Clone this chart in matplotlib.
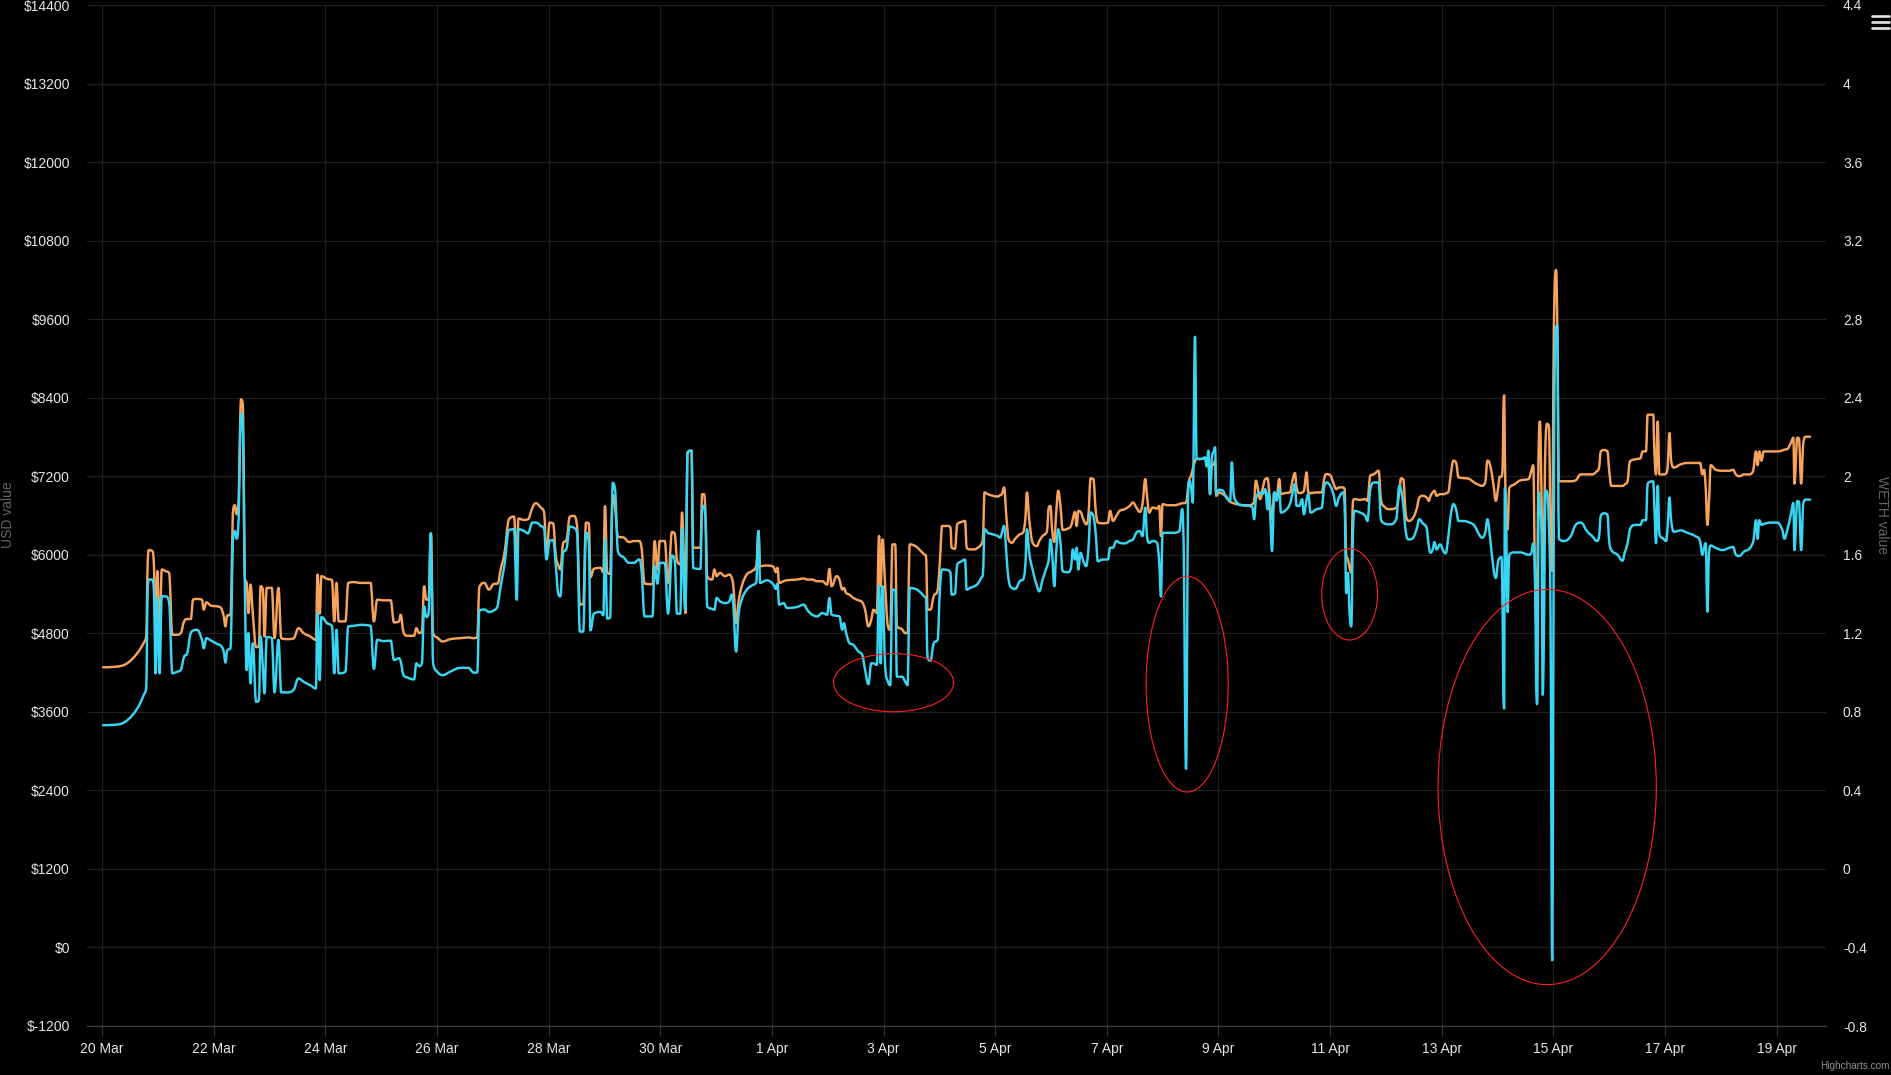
import matplotlib
matplotlib.use('Agg')
import numpy as np
import matplotlib.pyplot as plt
from matplotlib.patches import Ellipse, PathPatch
from matplotlib.path import Path
from matplotlib.lines import Line2D

plt.rcParams['font.family'] = ['Liberation Sans', 'DejaVu Sans']

# time in days since 20 Mar 00:00
days = [
    0.02, 0.27, 0.45, 0.63, 0.76, 0.79, 0.82, 0.84, 0.90, 0.93, 0.96, 0.99, 1.03, 1.07, 1.14, 1.20, 1.26, 1.34, 1.41, 1.47,
    1.52, 1.59, 1.63, 1.70, 1.79, 1.82, 1.87, 1.95, 2.06, 2.13, 2.18, 2.21, 2.24, 2.30, 2.35, 2.38, 2.41, 2.44, 2.49, 2.52,
    2.56, 2.59, 2.62, 2.66, 2.70, 2.76, 2.81, 2.84, 2.88, 2.91, 2.95, 3.04, 3.09, 3.16, 3.21, 3.31, 3.43, 3.52, 3.61, 3.73,
    3.83, 3.86, 3.90, 3.93, 4.03, 4.12, 4.16, 4.20, 4.24, 4.36, 4.41, 4.51, 4.63, 4.81, 4.87, 4.93, 5.04,
    5.17, 5.23, 5.32, 5.35, 5.40, 5.47, 5.59, 5.63, 5.68, 5.73, 5.77, 5.81, 5.85, 5.89, 5.93, 6.02, 6.10, 6.24, 6.42, 6.56,
    6.66, 6.72, 6.76, 6.85, 6.93, 7.02, 7.09, 7.14, 7.21, 7.29, 7.38, 7.43, 7.46, 7.56, 7.63, 7.71, 7.77, 7.86, 7.92, 7.96,
    8.02, 8.08, 8.13, 8.17, 8.21, 8.26, 8.32, 8.38, 8.45, 8.51, 8.56, 8.62, 8.67, 8.72, 8.75, 8.81, 8.93, 8.98, 9.01, 9.05,
    9.10, 9.15, 9.19, 9.24, 9.35, 9.44, 9.53, 9.62, 9.66, 9.72, 9.86, 9.90, 9.95, 9.99, 10.08, 10.14, 10.21, 10.26, 10.30, 10.36,
    10.39, 10.42, 10.45, 10.49, 10.56, 10.59, 10.72, 10.75, 10.78, 10.81, 10.84, 10.93, 10.97, 11.01, 11.07, 11.16, 11.24, 11.28,
    11.31, 11.36, 11.40, 11.46, 11.55, 11.64, 11.72, 11.76, 11.79, 11.91, 12.03, 12.07, 12.10, 12.13, 12.21, 12.27, 12.45, 12.57,
    12.64, 12.72, 12.81, 12.90, 12.99, 13.03, 13.07, 13.16, 13.21, 13.26, 13.29, 13.33, 13.39, 13.46, 13.55, 13.62, 13.67, 13.73,
    13.78, 13.82, 13.88, 13.92, 13.95, 13.98, 14.03, 14.08, 14.12, 14.16, 14.21, 14.24, 14.33, 14.39, 14.43, 14.47, 14.57, 14.64,
    14.73, 14.76, 14.79, 14.84, 14.90, 14.97, 15.01, 15.05, 15.16, 15.20, 15.22, 15.28, 15.32, 15.40, 15.46, 15.49,
    15.55, 15.63, 15.69, 15.75, 15.78, 15.81, 15.87, 15.96, 16.05, 16.09, 16.12, 16.16, 16.20, 16.24, 16.30, 16.36, 16.44, 16.50,
    16.54, 16.57, 16.61, 16.67, 16.75, 16.79, 16.85, 16.93, 16.96, 16.99, 17.02, 17.06, 17.09, 17.13, 17.17, 17.21, 17.30, 17.36,
    17.39, 17.43, 17.46, 17.49, 17.53, 17.58, 17.63, 17.67, 17.71, 17.76, 17.80, 17.84, 17.93, 18.02, 18.06, 18.11, 18.17, 18.23,
    18.32, 18.41, 18.47, 18.53, 18.59, 18.64, 18.69, 18.72, 18.76, 18.82, 18.90, 18.94, 18.97, 19.00, 19.09, 19.21, 19.30, 19.35,
    19.37, 19.42, 19.46, 19.48, 19.51, 19.54, 19.58, 19.61, 19.69, 19.76, 19.79, 19.82, 19.85, 19.88, 19.92, 19.94, 19.96, 20.01,
    20.08, 20.14, 20.21, 20.24, 20.27, 20.33, 20.44, 20.56, 20.61, 20.64, 20.67,
    20.75, 20.79, 20.84, 20.88, 20.90, 20.93, 20.96, 21.00, 21.04, 21.09, 21.12, 21.19, 21.28, 21.33, 21.37, 21.40, 21.45, 21.50,
    21.53, 21.58, 21.61, 21.65, 21.76, 21.85, 21.90, 21.94, 22.01, 22.06, 22.11, 22.16, 22.23, 22.26, 22.29, 22.32, 22.35, 22.38,
    22.41, 22.44, 22.54, 22.63, 22.67, 22.72, 22.79, 22.87, 22.91, 22.97, 23.07, 23.19, 23.24, 23.27, 23.31, 23.36, 23.41, 23.49,
    23.55, 23.60, 23.66, 23.73, 23.77, 23.80, 23.84, 23.87, 23.91, 23.97, 24.03, 24.07, 24.12, 24.16, 24.21, 24.26, 24.30, 24.39,
    24.50, 24.58, 24.66, 24.72, 24.78, 24.82, 24.87, 24.93, 24.97,
    25.01, 25.04, 25.07, 25.09, 25.11, 25.12, 25.13, 25.15, 25.18, 25.21, 25.30, 25.41, 25.56, 25.61, 25.64, 25.67, 25.70, 25.71,
    25.74, 25.76, 25.79, 25.81, 25.83, 25.86, 25.89, 25.92, 25.95, 25.98, 26.00, 26.02, 26.05, 26.07, 26.10, 26.19, 26.31, 26.40,
    26.49, 26.61, 26.70, 26.78, 26.82, 26.85, 26.91, 26.97, 27.00, 27.04, 27.15, 27.24, 27.28, 27.33, 27.37, 27.47, 27.56, 27.60,
    27.66, 27.69, 27.79, 27.81, 27.84, 27.87, 27.90, 27.97, 28.02, 28.05, 28.08, 28.11, 28.16, 28.28, 28.40, 28.55, 28.63, 28.67,
    28.70, 28.73, 28.76, 28.79, 28.82, 28.91, 29.03, 29.15, 29.22, 29.27, 29.33, 29.42, 29.51, 29.57, 29.59, 29.63, 29.66, 29.69,
    29.73, 29.77, 29.89, 30.01, 30.10, 30.14, 30.19, 30.26, 30.30, 30.32, 30.37, 30.40, 30.44, 30.48, 30.52, 30.60,
]

usd_value = [
    4281, 4291, 4342, 4496, 4675, 4752, 5928, 6072, 6056, 5826, 4700, 5749, 4700, 5775, 5749, 5724, 4777, 4777, 4803, 4982,
    5018, 5018, 5314, 5325, 5314, 5161, 5274, 5222, 5212, 5187, 5059, 4905, 5069, 5084, 6696, 6757, 6619, 6747, 8374, 8308,
    5621, 5570, 5110, 5545, 5110, 4588, 4598, 5519, 5468, 4752, 5494, 5494, 4726, 5494, 4726, 4711, 4721, 4879, 4803, 4752,
    4700, 5698, 5101, 5673, 5632, 5611, 4982, 5570, 4982, 4982, 5570, 5582, 5570, 5570, 4982, 5314, 5304,
    5304, 4966, 4982, 5084, 4813, 4762, 4762, 4879, 4803, 4828, 5519, 5314, 5314, 6328, 4803, 4726, 4675, 4711, 4726, 4736,
    4726, 4741, 5509, 5570, 5468, 5555, 5560, 5775, 6031, 6543, 6583, 5877, 6553, 6532, 6543, 6721, 6788, 6721, 6645, 6006,
    6491, 6481, 5980, 5852, 5775, 6176, 6227, 6583, 6594, 6440, 5238, 5253, 6491, 6481, 5657, 5785, 5800, 5734, 6742, 5734,
    5708, 6911, 6721, 6277, 6261, 6195, 6210, 6210, 6133, 5560, 5550, 6210, 5775, 6210, 6210, 5572, 6348, 6322, 5913, 5852,
    6645, 6031, 5110, 7566, 7592, 6108, 6108, 6926, 6926, 6645, 5673, 5621, 5775, 5673, 5724, 5673, 5698, 5647,
    5519, 4956, 5263, 5519, 5698, 5749, 5826, 6363, 5826, 5836, 5816, 5734, 5801, 5570, 5596, 5611, 5621, 5637,
    5621, 5621, 5596, 5596, 5545, 5785, 5519, 5673, 5621, 5468, 5494, 5417, 5391, 5340, 5304, 5274, 5161, 4905,
    5007, 5161, 5110, 6287, 5519, 6235, 5519, 4905, 4854, 6159, 6159, 4905, 4864, 4803, 4803, 6159, 6133, 6082,
    6005, 5990, 5161, 5161, 5366, 5458, 5903, 6440, 6440, 6415, 6108, 6092, 6466, 6502, 6517, 6108,
    6082, 6082, 6108, 6159, 6235, 6952, 6926, 6901, 6890, 6911, 6926, 7029, 6594, 6235, 6184, 6246, 6312, 6338,
    6543, 6952, 6543, 6184, 6133, 6210, 6287, 6363, 6722, 6747, 6389, 6195, 6594, 6977, 6747, 6379, 6399, 6440,
    6543, 6655, 6440, 6670, 6655, 6543, 6466, 6594, 7167, 7157, 6696, 6491, 6481, 6491, 6670, 6517, 6594, 6670,
    6696, 6747, 6798, 6722, 6655, 6773, 7157, 6901, 6645, 6722, 6706, 6747, 6287, 6773, 6757, 6757, 6773, 6788,
    6788, 6798, 7054, 7157, 7208, 7310, 7430, 7464, 7464, 7474, 7387, 7412, 6926, 7351, 7387, 7438, 6901, 6952,
    6926, 6890, 6809, 6798, 6788, 6773, 6757, 6757, 6773, 6824, 7131,
    6850, 7003, 7157, 7167, 7054, 6747, 6543, 6952, 6875, 7157, 6926, 6942, 6952, 7146, 7249, 7029, 6942, 6952,
    6978, 7259, 6952, 6942, 6952, 6952, 7182, 7233, 7208, 7095, 7003, 7029, 7029, 7003, 6005, 5928, 5801, 5724,
    6824, 6850, 6839, 6850, 6824, 7208, 7233, 7285, 6850, 6737, 6696, 6722, 6952, 7167, 7157, 6594, 6517, 6568,
    6696, 6875, 6901, 6875, 6824, 6901, 6952, 6978, 6901, 6926, 6926, 6937, 6962, 7208, 7438, 7402, 7182, 7172,
    7157, 7105, 7070, 7054, 7105, 7438, 7361, 7054, 6824,
    7017, 7193, 7193, 7298, 8351, 8435, 7649, 6737, 6386, 7017, 7074, 7137, 7158, 7298, 7368, 5754, 4842, 5333,
    7719, 8035, 6807, 5754, 6105, 7719, 8000, 7965, 6456, 5754, 8561, 9965, 10351, 9544, 7123, 7123, 7123, 7137,
    7228, 7228, 7228, 7277, 7333, 7579, 7600, 7579, 7298, 7052, 7052, 7052, 7074, 7123, 7424, 7459, 7473, 7579,
    7579, 8140, 8140, 7579, 7228, 8035, 7228, 7228, 7242, 7368, 7860, 7438, 7333, 7382, 7403, 7403, 7403, 7228,
    7298, 7017, 6456, 6842, 7368, 7298, 7284, 7284, 7298, 7228, 7200, 7228, 7228, 7263, 7333, 7579, 7368, 7579,
    7438, 7579, 7579, 7579, 7593, 7607, 7614, 7719, 7789, 7088, 7789, 7775, 7088, 7719, 7803, 7803,
]

weth_value = [
    0.732, 0.735, 0.757, 0.817, 0.894, 0.919, 1.440, 1.474, 1.474, 1.405, 0.996, 1.380, 0.996, 1.388, 1.388, 1.358, 0.996, 1.004, 1.013, 1.081,
    1.095, 1.201, 1.214, 1.218, 1.167, 1.124, 1.175, 1.163, 1.146, 1.136, 1.107, 1.051, 1.112, 1.124, 1.695, 1.721, 1.682, 1.747, 2.318, 2.258,
    1.388, 1.013, 1.201, 0.945, 1.149, 0.851, 0.859, 1.184, 1.030, 0.894, 1.181, 1.176, 0.899, 1.167, 0.899, 0.899, 0.911, 0.970, 0.953, 0.936,
    0.919, 1.303, 0.962, 1.283, 1.252, 1.235, 0.996, 1.218, 0.996, 1.004, 1.235, 1.238, 1.243, 1.238, 1.019, 1.167, 1.160,
    1.163, 1.064, 1.073, 1.056, 0.987, 0.975, 0.965, 1.047, 1.033, 1.047, 1.337, 1.283, 1.303, 1.709, 1.047, 1.000, 0.987, 1.005, 1.024, 1.024,
    1.000, 1.000, 1.317, 1.321, 1.309, 1.317, 1.344, 1.440, 1.550, 1.726, 1.730, 1.371, 1.730, 1.721, 1.709, 1.764, 1.764, 1.747, 1.733, 1.576,
    1.670, 1.675, 1.542, 1.405, 1.388, 1.610, 1.631, 1.743, 1.738, 1.712, 1.209, 1.209, 1.712, 1.661, 1.215, 1.300, 1.309, 1.292, 1.678, 1.275,
    1.280, 1.966, 1.932, 1.619, 1.585, 1.559, 1.559, 1.576, 1.533, 1.286, 1.286, 1.542, 1.453, 1.559, 1.559, 1.300, 1.596, 1.571, 1.300, 1.300,
    1.730, 1.474, 1.320, 2.122, 2.130, 1.533, 1.528, 1.832, 1.849, 1.781, 1.337, 1.324, 1.320, 1.380, 1.363, 1.354, 1.363, 1.397,
    1.337, 1.107, 1.286, 1.371, 1.422, 1.443, 1.460, 1.721, 1.457, 1.470, 1.448, 1.426, 1.453, 1.346, 1.354, 1.329, 1.334, 1.346,
    1.317, 1.295, 1.286, 1.303, 1.295, 1.380, 1.295, 1.289, 1.286, 1.218, 1.252, 1.201, 1.150, 1.141, 1.107, 1.090, 1.013, 0.941,
    1.047, 1.047, 1.039, 1.440, 1.047, 1.440, 1.030, 0.953, 0.936, 1.422, 1.422, 0.979, 0.979, 0.953, 0.936, 1.431, 1.426, 1.414,
    1.388, 1.380, 1.073, 1.061, 1.150, 1.167, 1.422, 1.525, 1.521, 1.508, 1.397, 1.402, 1.550, 1.567, 1.576, 1.422,
    1.431, 1.440, 1.453, 1.482, 1.499, 1.730, 1.712, 1.704, 1.695, 1.687, 1.712, 1.747, 1.610, 1.474, 1.431, 1.426, 1.465, 1.474,
    1.542, 1.730, 1.610, 1.525, 1.440, 1.414, 1.474, 1.542, 1.576, 1.678, 1.610, 1.440, 1.593, 1.730, 1.661, 1.516, 1.511, 1.533,
    1.627, 1.576, 1.636, 1.525, 1.610, 1.567, 1.542, 1.627, 1.815, 1.798, 1.712, 1.567, 1.576, 1.576, 1.636, 1.636, 1.670, 1.661,
    1.658, 1.670, 1.678, 1.712, 1.721, 1.695, 1.840, 1.695, 1.661, 1.670, 1.661, 1.559, 1.388, 1.712, 1.712, 1.712, 1.721, 1.832,
    1.730, 0.510, 1.934, 1.977, 1.943, 1.866, 2.710, 2.088, 2.088, 2.096, 2.050, 2.130, 1.909, 2.088, 2.130, 2.148, 1.909, 1.931,
    1.926, 1.892, 1.875, 2.071, 1.917, 1.866, 1.852, 1.849, 1.840, 1.781, 1.883,
    1.917, 1.909, 1.934, 1.832, 1.917, 1.789, 1.619, 1.917, 1.875, 1.934, 1.815, 1.823, 1.858, 1.917, 1.960, 1.849, 1.849, 1.883,
    1.806, 1.883, 1.909, 1.815, 1.832, 1.840, 1.951, 1.968, 1.948, 1.909, 1.849, 1.892, 1.917, 1.858, 1.405, 1.508, 1.303, 1.235,
    1.712, 1.823, 1.815, 1.798, 1.772, 1.934, 1.968, 1.968, 1.781, 1.760, 1.755, 1.784, 1.951, 1.934, 1.858, 1.712, 1.678, 1.687,
    1.730, 1.781, 1.760, 1.738, 1.644, 1.610, 1.627, 1.665, 1.627, 1.653, 1.619, 1.607, 1.695, 1.798, 1.858, 1.828, 1.772, 1.772,
    1.764, 1.750, 1.709, 1.687, 1.712, 1.781, 1.678, 1.525, 1.482,
    1.565, 1.584, 1.588, 1.331, 0.840, 0.817, 1.939, 1.846, 1.308, 1.600, 1.612, 1.612, 1.600, 1.612, 1.659, 1.518, 0.863, 0.840,
    1.916, 1.846, 1.705, 0.887, 1.167, 1.928, 1.916, 1.752, 1.284, -0.465, 1.050, 2.454, 2.758, 2.770, 1.682, 1.670, 1.694, 1.752,
    1.764, 1.717, 1.694, 1.670, 1.694, 1.799, 1.811, 1.804, 1.670, 1.624, 1.600, 1.570, 1.612, 1.659, 1.729, 1.752, 1.752, 1.776,
    1.776, 1.963, 1.974, 1.846, 1.659, 1.951, 1.705, 1.682, 1.670, 1.752, 1.892, 1.776, 1.717, 1.724, 1.712, 1.694, 1.670, 1.600,
    1.635, 1.659, 1.310, 1.612, 1.647, 1.635, 1.624, 1.635, 1.640, 1.600, 1.594, 1.617, 1.630, 1.659, 1.682, 1.776, 1.682, 1.776,
    1.752, 1.757, 1.764, 1.764, 1.729, 1.682, 1.724, 1.811, 1.864, 1.624, 1.874, 1.869, 1.624, 1.864, 1.881, 1.881,
]

date_labels = ['20 Mar', '22 Mar', '24 Mar', '26 Mar', '28 Mar', '30 Mar', '1 Apr', '3 Apr',
               '5 Apr', '7 Apr', '9 Apr', '11 Apr', '13 Apr', '15 Apr', '17 Apr', '19 Apr']
date_ticks = [0, 2, 4, 6, 8, 10, 12, 14, 16, 18, 20, 22, 24, 26, 28, 30]
usd_ticks = [-1200, 0, 1200, 2400, 3600, 4800, 6000, 7200, 8400, 9600, 10800, 12000, 13200, 14400]
weth_ticks = [-0.8, -0.4, 0, 0.4, 0.8, 1.2, 1.6, 2.0, 2.4, 2.8, 3.2, 3.6, 4.0, 4.4]

# red hand-drawn highlight ellipses: (center day, center USD, width days, height USD)
highlights = [(14.18, 4046, 2.15, 889), (19.44, 4023, 1.47, 3296),
              (22.35, 5395, 1.00, 1395), (25.89, 2452, 3.91, 6040)]


def spline_path(x, y, smoothing=1.5):
    """Bezier path through the points, built like a Highcharts 'spline' series."""
    x = np.asarray(x, float)
    y = np.asarray(y, float)
    n = len(x)
    lcx, lcy, rcx, rcy = x.copy(), y.copy(), x.copy(), y.copy()
    den = smoothing + 1
    for i in range(1, n - 1):
        px, py = x[i], y[i]
        ax_, ay = x[i - 1], y[i - 1]
        nx, ny = x[i + 1], y[i + 1]
        lx = (smoothing * px + ax_) / den
        ly = (smoothing * py + ay) / den
        rx = (smoothing * px + nx) / den
        ry = (smoothing * py + ny) / den
        if rx != lx:
            corr = ((ry - ly) * (rx - px)) / (rx - lx) + py - ry
            ly += corr
            ry += corr
        if ly > ay and ly > py:
            ly = max(ay, py)
            ry = 2 * py - ly
        elif ly < ay and ly < py:
            ly = min(ay, py)
            ry = 2 * py - ly
        if ry > ny and ry > py:
            ry = max(ny, py)
            ly = 2 * py - ry
        elif ry < ny and ry < py:
            ry = min(ny, py)
            ly = 2 * py - ry
        lcx[i], lcy[i], rcx[i], rcy[i] = lx, ly, rx, ry
    verts = [(x[0], y[0])]
    codes = [Path.MOVETO]
    for i in range(1, n):
        verts += [(rcx[i - 1], rcy[i - 1]), (lcx[i], lcy[i]), (x[i], y[i])]
        codes += [Path.CURVE4] * 3
    return Path(verts, codes)


W, H = 1891, 1075
L, R, T, B = 87, 1826, 5, 1026
fig = plt.figure(figsize=(W / 100, H / 100), dpi=100, facecolor='black')
ax = fig.add_axes([L / W, 1 - B / H, (R - L) / W, (B - T) / H])
ax.set_facecolor('black')
ax2 = ax.twinx()

ax.add_patch(PathPatch(spline_path(days, usd_value), fill=False, edgecolor='#f7a35c',
                       lw=1.75, joinstyle='round', capstyle='round', zorder=3))
ax2.add_patch(PathPatch(spline_path(days, weth_value), fill=False, edgecolor='#38d6f3',
                        lw=1.75, joinstyle='round', capstyle='round', zorder=3))

for cx, cy, w, h in highlights:
    ax2.add_patch(Ellipse((cx, cy), w, h, transform=ax.transData, fill=False,
                          edgecolor='#ff2020', lw=0.8, zorder=5))

ax.set_xlim(-0.27, 30.885)
ax.set_ylim(-1200, 14400)
ax2.set_ylim(-0.8, 4.4)

ax.set_xticks(date_ticks)
ax.set_xticklabels(date_labels)
ax.set_yticks(usd_ticks)
ax.set_yticklabels(['\\$' + str(v) for v in usd_ticks])
ax2.set_yticks(weth_ticks)
ax2.set_yticklabels([('%g' % v) for v in weth_ticks])

for a in (ax, ax2):
    for s in a.spines.values():
        s.set_visible(False)
ax.spines['bottom'].set_visible(True)
ax.spines['bottom'].set_color('#3c3c3c')
ax.spines['bottom'].set_linewidth(1.0)

ax.grid(True, color='#1f1f1f', lw=0.9)
ax.set_axisbelow(True)

ax.tick_params(axis='x', length=7.2, width=0.8, color='#333333', labelcolor='#e6e6e6',
               labelsize=10, pad=4)
ax.tick_params(axis='y', length=0, pad=12.2, labelcolor='#e6e6e6', labelsize=10)
ax2.tick_params(axis='y', length=0, pad=12.2, labelcolor='#e6e6e6', labelsize=10)

fig.text(8.5 / W, 1 - 515 / H, 'USD value', rotation=90, color='#666666', fontsize=10,
         ha='center', va='center')
fig.text(1882 / W, 1 - 515 / H, 'WETH value', rotation=270, color='#666666', fontsize=10,
         ha='center', va='center')
fig.text(1890 / W, 1 - 1066 / H, 'Highcharts.com', color='#909090', fontsize=7.2,
         ha='right', va='center')

for yy in (15.7, 21.7, 27.7):
    fig.add_artist(Line2D([1871.5 / W, 1888.5 / W], [1 - yy / H, 1 - yy / H],
                          color='#e6e6e6', lw=1.9, solid_capstyle='round'))

fig.savefig('out.png', dpi=100, facecolor='black')
